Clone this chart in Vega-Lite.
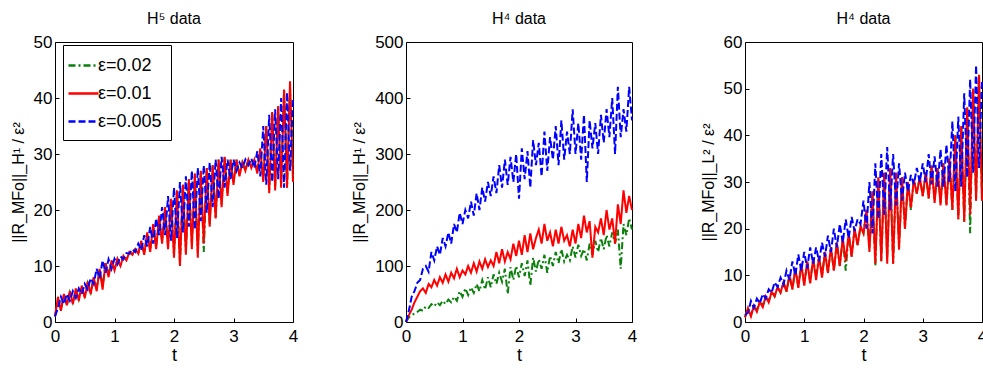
{
  "$schema": "https://vega.github.io/schema/vega-lite/v6.json",
  "background": "white",
  "padding": {"left": 9, "top": 10, "right": 0, "bottom": 0},
  "bounds": "flush",
  "spacing": 113,
  "config": {
    "font": "Liberation Sans, Arial, sans-serif",
    "view": {"stroke": "black", "strokeWidth": 1},
    "axis": {
      "grid": false, "domain": false, "tickColor": "black", "tickSize": -4, "tickWidth": 1,
      "labelFontSize": 17, "labelColor": "black", "titleFontSize": 16, "titleFontWeight": "normal",
      "titleColor": "black", "labelPadding": 7, "titlePadding": 7
    },
    "axisX": {"labelPadding": 10, "titlePadding": 2, "titleFontSize": 18, "labelFlush": false},
    "title": {"fontSize": 16, "fontWeight": "normal", "color": "black", "offset": 6},
    "legend": {"titleFontSize": 0}
  },
  "resolve": {"legend": {"color": "independent", "strokeDash": "independent"}},
  "datasets": {
    "p1": [
      {"t":0.00,"a":1,"b":1,"c":1},{"t":0.05,"a":4,"b":4.5,"c":2.5},{"t":0.10,"a":2.2,"b":2,"c":4.5},{"t":0.15,"a":4.8,"b":5,"c":3.2},
      {"t":0.20,"a":3,"b":3,"c":5},{"t":0.25,"a":5.3,"b":5.5,"c":3.8},{"t":0.30,"a":3.5,"b":3.2,"c":5.5},{"t":0.35,"a":5.8,"b":6,"c":4.3},
      {"t":0.40,"a":4,"b":3.8,"c":6},{"t":0.45,"a":6.2,"b":6.5,"c":5},{"t":0.50,"a":4.6,"b":4.3,"c":6.8},{"t":0.55,"a":7,"b":7.2,"c":5.8},
      {"t":0.60,"a":5.3,"b":5,"c":7.8},{"t":0.65,"a":7.8,"b":8,"c":6.8},{"t":0.70,"a":6,"b":5.5,"c":9.5},{"t":0.75,"a":9.3,"b":9.5,"c":7.8},
      {"t":0.80,"a":6.5,"b":5.8,"c":11},{"t":0.85,"a":10.5,"b":10.5,"c":8.8},{"t":0.90,"a":8.5,"b":8,"c":11.2},{"t":0.95,"a":11,"b":11,"c":9.5},
      {"t":1.00,"a":9.4,"b":9.2,"c":11.3},{"t":1.05,"a":11.2,"b":11.3,"c":10.3},{"t":1.10,"a":10.2,"b":10,"c":11.7},{"t":1.15,"a":11.7,"b":11.8,"c":11.2},
      {"t":1.20,"a":11.1,"b":11,"c":12.3},{"t":1.25,"a":12.4,"b":12.5,"c":12.2},{"t":1.30,"a":12.1,"b":12,"c":13},{"t":1.35,"a":13,"b":13,"c":12.5},
      {"t":1.40,"a":12.3,"b":12.2,"c":14},{"t":1.45,"a":14.2,"b":14.5,"c":12.8},{"t":1.50,"a":12.3,"b":12,"c":15.5},{"t":1.55,"a":15.8,"b":16,"c":13.5},
      {"t":1.60,"a":13,"b":12.5,"c":17},{"t":1.65,"a":17.2,"b":17.5,"c":14},{"t":1.70,"a":13.5,"b":13,"c":18.5},{"t":1.75,"a":18.8,"b":19,"c":15.5},
      {"t":1.80,"a":14.5,"b":14,"c":20.5},{"t":1.85,"a":20.5,"b":20.5,"c":15.5},{"t":1.90,"a":13.5,"b":13,"c":22.5},{"t":1.95,"a":22,"b":22,"c":14.5},
      {"t":2.00,"a":12,"b":11.5,"c":24},{"t":2.05,"a":23.5,"b":23.5,"c":15},{"t":2.10,"a":10.5,"b":10,"c":25},{"t":2.15,"a":24.5,"b":24.5,"c":16},
      {"t":2.20,"a":12.5,"b":12,"c":26},{"t":2.25,"a":25.5,"b":25.5,"c":17},{"t":2.30,"a":14,"b":13,"c":27},{"t":2.35,"a":26.5,"b":26.5,"c":16.5},
      {"t":2.40,"a":12.5,"b":11.5,"c":27.5},{"t":2.45,"a":27,"b":27,"c":18},{"t":2.50,"a":12.5,"b":14,"c":28},{"t":2.55,"a":27.5,"b":27.5,"c":19.5},
      {"t":2.60,"a":17.5,"b":17,"c":28.5},{"t":2.65,"a":28,"b":28,"c":20.5},{"t":2.70,"a":18.5,"b":18.5,"c":29},{"t":2.75,"a":29,"b":29,"c":22},
      {"t":2.80,"a":21,"b":20.5,"c":29.5},{"t":2.85,"a":29.5,"b":29.5,"c":24},{"t":2.90,"a":23,"b":22.5,"c":29},{"t":2.95,"a":29,"b":29,"c":25.5},
      {"t":3.00,"a":25,"b":24.5,"c":29},{"t":3.05,"a":29,"b":29,"c":27},{"t":3.10,"a":26.5,"b":26,"c":28.5},{"t":3.15,"a":28.5,"b":28.5,"c":27.5},
      {"t":3.20,"a":27.2,"b":27,"c":29},{"t":3.25,"a":29,"b":29,"c":28},{"t":3.30,"a":27.8,"b":27.5,"c":29.2},{"t":3.35,"a":29,"b":29,"c":27.5},
      {"t":3.40,"a":27,"b":26.5,"c":30.5},{"t":3.45,"a":30.8,"b":31,"c":26},{"t":3.50,"a":25.5,"b":25,"c":35},{"t":3.55,"a":35,"b":35,"c":24.5},
      {"t":3.60,"a":23.5,"b":23,"c":37},{"t":3.65,"a":37.5,"b":37.5,"c":25},{"t":3.70,"a":24,"b":23.5,"c":38},{"t":3.75,"a":38.5,"b":38.5,"c":25.5},
      {"t":3.80,"a":24.5,"b":24,"c":40},{"t":3.85,"a":41.5,"b":41.5,"c":24},{"t":3.90,"a":24,"b":24,"c":41},{"t":3.95,"a":42,"b":43,"c":27},
      {"t":4.00,"a":26,"b":25,"c":40}
    ],
    "p2": [
      {"t":0.00,"a":0,"b":0,"c":0},{"t":0.05,"a":8,"b":12,"c":20},{"t":0.10,"a":12,"b":22,"c":45},{"t":0.15,"a":15,"b":35,"c":55},
      {"t":0.20,"a":18,"b":45,"c":70},{"t":0.25,"a":22,"b":55,"c":75},{"t":0.30,"a":20,"b":60,"c":95},{"t":0.35,"a":28,"b":52,"c":100},
      {"t":0.40,"a":25,"b":68,"c":90},{"t":0.45,"a":32,"b":62,"c":125},{"t":0.50,"a":28,"b":75,"c":110},{"t":0.55,"a":35,"b":65,"c":135},
      {"t":0.60,"a":30,"b":80,"c":120},{"t":0.65,"a":38,"b":70,"c":150},{"t":0.70,"a":32,"b":85,"c":135},{"t":0.75,"a":40,"b":72,"c":160},
      {"t":0.80,"a":35,"b":88,"c":140},{"t":0.85,"a":45,"b":78,"c":175},{"t":0.90,"a":38,"b":95,"c":160},{"t":0.95,"a":55,"b":80,"c":195},
      {"t":1.00,"a":45,"b":92,"c":175},{"t":1.05,"a":60,"b":85,"c":200},{"t":1.10,"a":48,"b":100,"c":185},{"t":1.15,"a":62,"b":88,"c":215},
      {"t":1.20,"a":52,"b":105,"c":190},{"t":1.25,"a":68,"b":90,"c":230},{"t":1.30,"a":55,"b":108,"c":200},{"t":1.35,"a":75,"b":95,"c":240},
      {"t":1.40,"a":58,"b":112,"c":215},{"t":1.45,"a":80,"b":98,"c":250},{"t":1.50,"a":62,"b":110,"c":225},{"t":1.55,"a":85,"b":100,"c":260},
      {"t":1.60,"a":68,"b":125,"c":230},{"t":1.65,"a":88,"b":105,"c":280},{"t":1.70,"a":72,"b":130,"c":240},{"t":1.75,"a":95,"b":108,"c":290},
      {"t":1.80,"a":50,"b":125,"c":245},{"t":1.85,"a":98,"b":112,"c":295},{"t":1.90,"a":75,"b":140,"c":250},{"t":1.95,"a":100,"b":118,"c":300},
      {"t":2.00,"a":80,"b":145,"c":220},{"t":2.05,"a":105,"b":120,"c":310},{"t":2.10,"a":82,"b":155,"c":255},{"t":2.15,"a":110,"b":125,"c":305},
      {"t":2.20,"a":65,"b":158,"c":240},{"t":2.25,"a":115,"b":130,"c":325},{"t":2.30,"a":90,"b":150,"c":280},{"t":2.35,"a":112,"b":165,"c":320},
      {"t":2.40,"a":95,"b":140,"c":260},{"t":2.45,"a":120,"b":175,"c":340},{"t":2.50,"a":88,"b":145,"c":270},{"t":2.55,"a":118,"b":160,"c":330},
      {"t":2.60,"a":100,"b":135,"c":290},{"t":2.65,"a":125,"b":165,"c":350},{"t":2.70,"a":105,"b":140,"c":280},{"t":2.75,"a":130,"b":170,"c":360},
      {"t":2.80,"a":108,"b":145,"c":290},{"t":2.85,"a":120,"b":155,"c":340},{"t":2.90,"a":110,"b":135,"c":300},{"t":2.95,"a":135,"b":165,"c":380},
      {"t":3.00,"a":115,"b":140,"c":300},{"t":3.05,"a":138,"b":175,"c":355},{"t":3.10,"a":118,"b":150,"c":290},{"t":3.15,"a":130,"b":190,"c":370},
      {"t":3.20,"a":110,"b":160,"c":250},{"t":3.25,"a":140,"b":180,"c":360},{"t":3.30,"a":120,"b":115,"c":310},{"t":3.35,"a":145,"b":170,"c":355},
      {"t":3.40,"a":125,"b":160,"c":300},{"t":3.45,"a":150,"b":185,"c":370},{"t":3.50,"a":130,"b":155,"c":320},{"t":3.55,"a":155,"b":200,"c":380},
      {"t":3.60,"a":135,"b":165,"c":330},{"t":3.65,"a":160,"b":185,"c":400},{"t":3.70,"a":140,"b":140,"c":300},{"t":3.75,"a":165,"b":210,"c":420},
      {"t":3.80,"a":95,"b":175,"c":330},{"t":3.85,"a":175,"b":235,"c":380},{"t":3.90,"a":155,"b":195,"c":340},{"t":3.95,"a":185,"b":225,"c":420},
      {"t":4.00,"a":165,"b":200,"c":360}
    ],
    "p3": [
      {"t":0.00,"a":1,"b":1,"c":1.5},{"t":0.05,"a":3,"b":3,"c":2},{"t":0.10,"a":1.5,"b":1.2,"c":4.5},{"t":0.15,"a":3.5,"b":3.5,"c":3},
      {"t":0.20,"a":2.5,"b":2.2,"c":5},{"t":0.25,"a":4.5,"b":4.3,"c":4},{"t":0.30,"a":3.5,"b":3.2,"c":6},{"t":0.35,"a":5.5,"b":5.5,"c":5},
      {"t":0.40,"a":4.5,"b":4.2,"c":7},{"t":0.45,"a":6.5,"b":6.5,"c":6.3},{"t":0.50,"a":5.5,"b":5.5,"c":8.5},{"t":0.55,"a":7.5,"b":7.5,"c":7.5},
      {"t":0.60,"a":6.3,"b":6.3,"c":9.5},{"t":0.65,"a":8.5,"b":8.5,"c":8},{"t":0.70,"a":6.5,"b":6.5,"c":11},{"t":0.75,"a":10,"b":10,"c":9},
      {"t":0.80,"a":7,"b":7,"c":13},{"t":0.85,"a":11.5,"b":11.5,"c":10},{"t":0.90,"a":7.5,"b":7.3,"c":14.5},{"t":0.95,"a":12.5,"b":12.5,"c":11},
      {"t":1.00,"a":8,"b":7.8,"c":15},{"t":1.05,"a":13,"b":13,"c":11.5},{"t":1.10,"a":8.5,"b":8.3,"c":16},{"t":1.15,"a":13.5,"b":13.5,"c":12.5},
      {"t":1.20,"a":10,"b":9,"c":16},{"t":1.25,"a":14,"b":14,"c":13},{"t":1.30,"a":10,"b":9.5,"c":17},{"t":1.35,"a":15,"b":15,"c":14},
      {"t":1.40,"a":10.5,"b":10.5,"c":18.5},{"t":1.45,"a":16,"b":16,"c":15},{"t":1.50,"a":11,"b":11,"c":20},{"t":1.55,"a":17,"b":17,"c":16},
      {"t":1.60,"a":12,"b":12,"c":21},{"t":1.65,"a":18,"b":18,"c":17},{"t":1.70,"a":11,"b":13,"c":22},{"t":1.75,"a":19,"b":19,"c":18},
      {"t":1.80,"a":14,"b":14,"c":22.5},{"t":1.85,"a":20,"b":20,"c":19.5},{"t":1.90,"a":16.5,"b":16.5,"c":22},{"t":1.95,"a":20.5,"b":20.5,"c":21},
      {"t":2.00,"a":19,"b":19,"c":26},{"t":2.05,"a":24,"b":24,"c":20},{"t":2.10,"a":16,"b":15,"c":30},{"t":2.15,"a":28,"b":28,"c":19},
      {"t":2.20,"a":12,"b":12.5,"c":34},{"t":2.25,"a":31,"b":31,"c":22},{"t":2.30,"a":13,"b":13,"c":36},{"t":2.35,"a":32,"b":32,"c":23},
      {"t":2.40,"a":14,"b":12.5,"c":37.5},{"t":2.45,"a":33,"b":33,"c":24},{"t":2.50,"a":12.5,"b":12.5,"c":36},{"t":2.55,"a":32,"b":32,"c":25},
      {"t":2.60,"a":16,"b":15.5,"c":34},{"t":2.65,"a":31,"b":31,"c":26},{"t":2.70,"a":20,"b":20,"c":32},{"t":2.75,"a":30,"b":30,"c":28},
      {"t":2.80,"a":24,"b":24.5,"c":31.5},{"t":2.85,"a":30.5,"b":30.5,"c":29.5},{"t":2.90,"a":27.5,"b":27.5,"c":33},{"t":2.95,"a":31,"b":31,"c":30},
      {"t":3.00,"a":27,"b":27,"c":34},{"t":3.05,"a":32,"b":32,"c":30},{"t":3.10,"a":26.5,"b":26.5,"c":36},{"t":3.15,"a":33.5,"b":33.5,"c":29.5},
      {"t":3.20,"a":26,"b":25.5,"c":35.5},{"t":3.25,"a":33,"b":33,"c":29},{"t":3.30,"a":25.5,"b":25,"c":37},{"t":3.35,"a":34,"b":34,"c":29},
      {"t":3.40,"a":25,"b":25,"c":38},{"t":3.45,"a":35,"b":35,"c":30},{"t":3.50,"a":24,"b":24,"c":43},{"t":3.55,"a":40,"b":40,"c":28},
      {"t":3.60,"a":22,"b":22,"c":44},{"t":3.65,"a":42,"b":42,"c":29},{"t":3.70,"a":21.5,"b":21.5,"c":49},{"t":3.75,"a":46,"b":46,"c":31},
      {"t":3.80,"a":19,"b":23,"c":52},{"t":3.85,"a":50,"b":50,"c":32},{"t":3.90,"a":26,"b":26,"c":55},{"t":3.95,"a":53,"b":53,"c":33},
      {"t":4.00,"a":26,"b":26,"c":52}
    ]
  },
  "hconcat": [
    {
      "title": "H⁵ data",
      "width": 238, "height": 280,
      "data": {"name": "p1"},
      "transform": [{"fold": ["a", "b", "c"], "as": ["eps", "y"]}],
      "mark": {"type": "line", "strokeWidth": 2},
      "encoding": {
        "x": {"field": "t", "type": "quantitative", "scale": {"domain": [0, 4]}, "axis": {"values": [0, 1, 2, 3, 4], "title": "t"}},
        "y": {"field": "y", "type": "quantitative", "scale": {"domain": [0, 50]}, "axis": {"values": [0, 10, 20, 30, 40, 50], "title": "||R_MFo||_H¹ / ε²"}},
        "color": {"field": "eps", "type": "nominal", "scale": {"domain": ["a", "b", "c"], "range": ["#0a800a", "#ff0000", "#0000ff"]},
          "legend": {"title": null, "orient": "none", "legendX": 8, "legendY": 3, "symbolType": "M-1.5,0H1.5", "symbolSize": 400, "symbolStrokeWidth": 2.5,
            "labelFontSize": 18, "labelColor": "black", "labelOffset": 3, "rowPadding": 7, "padding": 9, "strokeColor": "black", "fillColor": "white",
            "labelExpr": "{'a': 'ε=0.02', 'b': 'ε=0.01', 'c': 'ε=0.005'}[datum.label]"}},
        "strokeDash": {"field": "eps", "type": "nominal", "scale": {"domain": ["a", "b", "c"], "range": [[7, 3, 2, 3], [1, 0], [7, 3]]},
          "legend": {"title": null, "orient": "none", "legendX": 8, "legendY": 3, "symbolType": "M-1.5,0H1.5", "symbolSize": 400, "symbolStrokeWidth": 2.5,
            "labelFontSize": 18, "labelColor": "black", "labelOffset": 3, "rowPadding": 7, "padding": 9, "strokeColor": "black", "fillColor": "white",
            "labelExpr": "{'a': 'ε=0.02', 'b': 'ε=0.01', 'c': 'ε=0.005'}[datum.label]"}}
      }
    },
    {
      "title": "H⁴ data",
      "width": 226, "height": 280,
      "data": {"name": "p2"},
      "transform": [{"fold": ["a", "b", "c"], "as": ["eps", "y"]}],
      "mark": {"type": "line", "strokeWidth": 2},
      "encoding": {
        "x": {"field": "t", "type": "quantitative", "scale": {"domain": [0, 4]}, "axis": {"values": [0, 1, 2, 3, 4], "title": "t"}},
        "y": {"field": "y", "type": "quantitative", "scale": {"domain": [0, 500]}, "axis": {"values": [0, 100, 200, 300, 400, 500], "title": "||R_MFo||_H¹ / ε²"}},
        "color": {"field": "eps", "type": "nominal", "scale": {"domain": ["a", "b", "c"], "range": ["#0a800a", "#ff0000", "#0000ff"]}, "legend": null},
        "strokeDash": {"field": "eps", "type": "nominal", "scale": {"domain": ["a", "b", "c"], "range": [[7, 3, 2, 3], [1, 0], [7, 3]]}, "legend": null}
      }
    },
    {
      "title": "H⁴ data",
      "width": 237, "height": 280,
      "data": {"name": "p3"},
      "transform": [{"fold": ["a", "b", "c"], "as": ["eps", "y"]}],
      "mark": {"type": "line", "strokeWidth": 2},
      "encoding": {
        "x": {"field": "t", "type": "quantitative", "scale": {"domain": [0, 4]}, "axis": {"values": [0, 1, 2, 3, 4], "title": "t"}},
        "y": {"field": "y", "type": "quantitative", "scale": {"domain": [0, 60]}, "axis": {"values": [0, 10, 20, 30, 40, 50, 60], "title": "||R_MFo||_L² / ε²"}},
        "color": {"field": "eps", "type": "nominal", "scale": {"domain": ["a", "b", "c"], "range": ["#0a800a", "#ff0000", "#0000ff"]}, "legend": null},
        "strokeDash": {"field": "eps", "type": "nominal", "scale": {"domain": ["a", "b", "c"], "range": [[7, 3, 2, 3], [1, 0], [7, 3]]}, "legend": null}
      }
    }
  ]
}
